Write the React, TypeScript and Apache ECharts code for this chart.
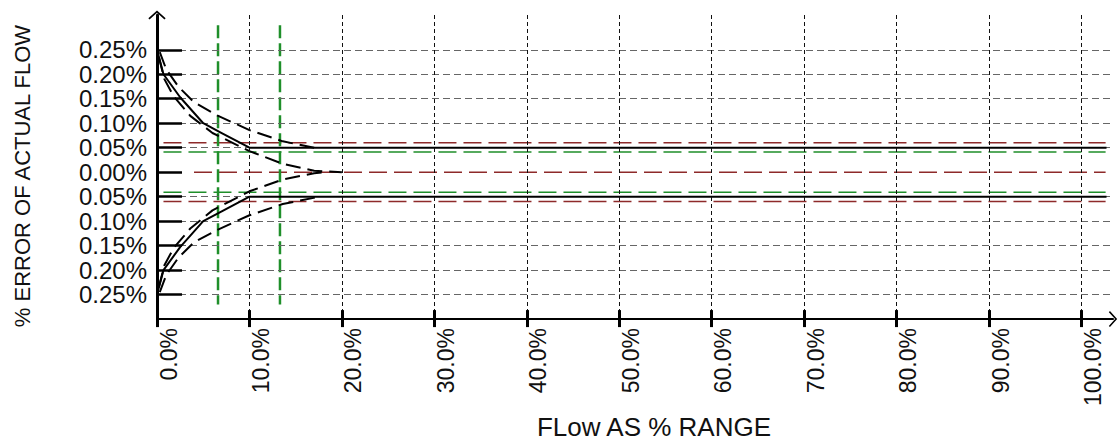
import React, { useEffect, useRef } from "react";
import * as echarts from "echarts";

// ---- data ----
const xTicks = [0, 10, 20, 30, 40, 50, 60, 70, 80, 90, 100];
const yTicks = [-0.25, -0.2, -0.15, -0.1, -0.05, 0, 0.05, 0.1, 0.15, 0.2, 0.25];
const yGridValues = [-0.25, -0.2, -0.15, -0.1, -0.05, 0.05, 0.1, 0.15, 0.2, 0.25];

const upperSolid = [[0, 0.25], [0.7, 0.2], [2.5, 0.153], [5, 0.1], [7, 0.08], [10, 0.05], [102.7, 0.05]];
const lowerSolid = [[0, -0.25], [0.7, -0.2], [2.5, -0.153], [5, -0.1], [7, -0.08], [10, -0.05], [102.7, -0.05]];
const upperOuter = [[0.3, 0.245], [1, 0.21], [2.3, 0.175], [4, 0.143], [6.5, 0.116], [10, 0.086], [13.6, 0.063], [17, 0.05]];
const upperInner = [[0.2, 0.235], [0.8, 0.19], [1.8, 0.155], [3.6, 0.115], [6, 0.08], [10, 0.043], [13.6, 0.017], [17, 0.003], [20, 0]];
const lowerOuter = [[0.3, -0.245], [1, -0.21], [2.3, -0.175], [4, -0.143], [6.5, -0.118], [10, -0.088], [13.6, -0.065], [17.6, -0.05]];
const lowerInner = [[0.2, -0.235], [0.8, -0.19], [1.8, -0.155], [3.6, -0.115], [6, -0.078], [10, -0.039], [13.6, -0.015], [17, -0.002], [18, 0]];

const redUpper = [[0.7, 0.06], [102.6, 0.06]];
const redZero = [[4, 0], [102.6, 0]];
const redLower = [[0.7, -0.06], [102.6, -0.06]];
const greenUpper = [[0.7, 0.041], [102.6, 0.041]];
const greenLower = [[0.7, -0.041], [102.6, -0.041]];
const greenVert1 = [[6.6, 0.3], [6.6, -0.27]];
const greenVert2 = [[13.3, 0.3], [13.3, -0.27]];

const X_TITLE = "FLow AS % RANGE";
const Y_TITLE = "% ERROR OF ACTUAL FLOW";

const RED = "#8e2a2a";
const GREEN = "#1f8f2a";
const FONT = "'Liberation Sans', Arial, sans-serif";
const ARROW = "path://M0 0L10 9L8.6 10.4L0 2.6L-8.6 10.4L-10 9Z";

function line(data: number[][], color: string, width: number, type: any, z = 3) {
  return {
    type: "line",
    data,
    symbol: "none",
    silent: true,
    z,
    lineStyle: { color, width, type },
  };
}

export default function App() {
  const ref = useRef<HTMLDivElement>(null);
  useEffect(() => {
    if (!ref.current) return;
    const chart = echarts.init(ref.current, undefined, { renderer: "svg" });
    const option: any = {
      animation: false,
      backgroundColor: "#ffffff",
      grid: { left: 157, right: 5, top: 15, bottom: 116, containLabel: false },
      xAxis: [
        {
          type: "value",
          min: 0,
          max: 103.4,
          interval: 10,
          position: "bottom",
          z: 10,
          axisLine: {
            show: true,
            onZero: false,
            lineStyle: { color: "#000", width: 2 },
            symbol: ["none", ARROW],
            symbolSize: [16, 9],
          },
          axisTick: { show: true, inside: false, length: 8, lineStyle: { color: "#000", width: 3 }, customValues: xTicks },
          axisLabel: {
            customValues: xTicks,
            rotate: 90,
            margin: 9,
            verticalAlign: "top",
            fontFamily: FONT,
            fontSize: 23,
            color: "#111",
            formatter: (v: number) => v.toFixed(1) + "%",
          },
          splitLine: { show: true, lineStyle: { color: "#111", width: 1, type: [4, 3] } },
          name: X_TITLE,
          nameLocation: "middle",
          nameGap: 90,
          nameTextStyle: { fontFamily: FONT, fontSize: 26, color: "#111", padding: [0, 0, 0, 38], verticalAlign: "top" },
        },
        {
          type: "value",
          min: 0,
          max: 103.4,
          interval: 10,
          position: "bottom",
          z: 10,
          axisLine: { show: false, onZero: false },
          axisTick: { show: true, inside: true, length: 9, lineStyle: { color: "#000", width: 3 }, customValues: xTicks },
          axisLabel: { show: false },
          splitLine: { show: false },
        },
      ],
      yAxis: {
        type: "value",
        min: -0.3,
        max: 0.321,
        interval: 0.05,
        z: 10,
        axisLine: {
          show: true,
          onZero: false,
          lineStyle: { color: "#000", width: 3 },
          symbol: ["none", ARROW],
          symbolSize: [18, 9],
        },
        axisTick: { show: true, inside: true, length: 25, lineStyle: { color: "#000", width: 2.5 }, customValues: yTicks },
        axisLabel: {
          customValues: yTicks,
          margin: 10,
          fontFamily: FONT,
          fontSize: 24,
          color: "#111",
          formatter: (v: number) => Math.abs(v).toFixed(2) + "%",
        },
        splitLine: { show: false },
        name: Y_TITLE,
        nameLocation: "middle",
        nameRotate: 90,
        nameGap: 124,
        nameTextStyle: { fontFamily: FONT, fontSize: 22, color: "#111", padding: [0, 18, 0, 0] },
      },
      series: [
        {
          type: "line",
          data: [],
          silent: true,
          z: 1,
          markLine: {
            silent: true,
            symbol: "none",
            label: { show: false },
            lineStyle: { color: "#666", width: 1, type: [7, 4] },
            data: yGridValues.map((v) => ({ yAxis: v })),
          },
        },
        line(redUpper, RED, 1.5, [18, 7]),
        line(redZero, RED, 1.5, [18, 7]),
        line(redLower, RED, 1.5, [18, 7]),
        line(greenUpper, GREEN, 1.5, [18, 7]),
        line(greenLower, GREEN, 1.5, [18, 7]),
        line(greenVert1, GREEN, 2.5, [13, 5]),
        line(greenVert2, GREEN, 2.5, [13, 5]),
        line(upperSolid, "#000", 2, "solid", 5),
        line(lowerSolid, "#000", 2, "solid", 5),
        line(upperOuter, "#000", 2, [15, 7], 5),
        line(upperInner, "#000", 2, [15, 7], 5),
        line(lowerOuter, "#000", 2, [15, 7], 5),
        line(lowerInner, "#000", 2, [15, 7], 5),
      ],
    };
    chart.setOption(option);
    return () => chart.dispose();
  }, []);
  return (
    <div
      ref={ref}
      style={{ position: "fixed", left: 0, top: 0, width: 1118, height: 445, background: "#fff" }}
    />
  );
}
